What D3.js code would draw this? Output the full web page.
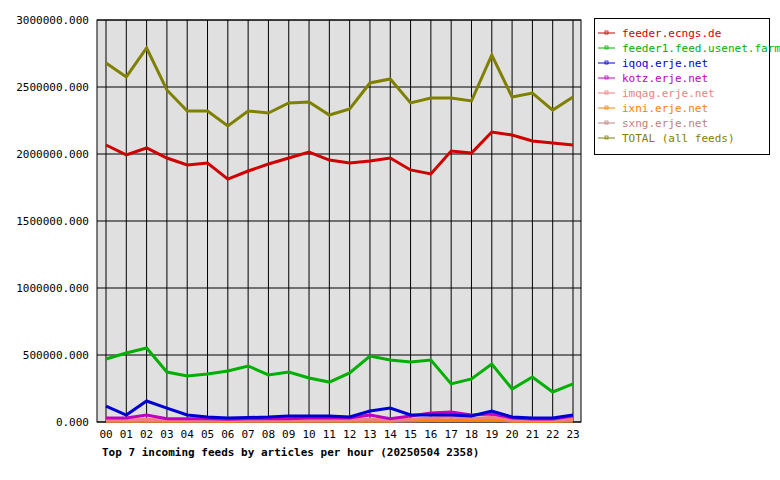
<!DOCTYPE html><html><head><meta charset="utf-8"><script src="https://cdn.jsdelivr.net/npm/d3@7"></script>
<style>body{margin:0;background:#fff}text{font-family:"DejaVu Sans Mono",monospace;font-size:11px}</style></head><body><svg width="780" height="480"></svg><script>
const hours=["00","01","02","03","04","05","06","07","08","09","10","11","12","13","14","15","16","17","18","19","20","21","22","23"];
const feederEcngs=[2067,1993,2045,1970,1918,1933,1813,1873,1925,1970,2015,1955,1933,1948,1970,1881,1851,2022,2007,2164,2142,2097,2082,2067];
const feeder1=[470,515,552,373,343,358,381,418,351,373,328,298,366,492,463,448,463,284,321,433,246,336,224,284];
const iqoq=[119,52,157,104,52,37,30,33,37,45,45,45,37,82,104,52,52,52,45,82,37,30,30,52];
const kotz=[30,30,52,25,25,25,20,25,25,25,30,30,30,52,25,45,67,75,52,60,30,22,22,45];
const imqag=[15,15,20,15,15,15,12,15,15,15,15,15,15,20,15,20,30,40,25,35,15,12,12,20];
const ixni=[8,8,10,8,8,8,6,8,8,8,8,8,8,10,8,20,12,15,12,15,8,6,6,10];
const sxng=[6,6,8,6,6,6,5,6,6,6,6,6,6,8,6,8,10,12,10,12,6,5,5,8];
const total=[2679,2575,2791,2478,2321,2321,2209,2321,2306,2381,2388,2291,2336,2530,2560,2381,2418,2418,2396,2739,2425,2455,2328,2425];
const names=["feeder.ecngs.de","feeder1.feed.usenet.farm","iqoq.erje.net","kotz.erje.net","imqag.erje.net","ixni.erje.net","sxng.erje.net","TOTAL (all feeds)"];
const colors=["#d00000","#00b000","#0000d0","#c000c0","#f08080","#ff8000","#c08080","#808000"];
const yTicks=[0,500000,1000000,1500000,2000000,2500000,3000000];
const series=[feederEcngs,feeder1,iqoq,kotz,imqag,ixni,sxng,total];
const svg=d3.select("svg");
const L=97,R=581,T=20,B=422;
const x=d3.scalePoint().domain(hours).range([106,573]);
const y=d3.scaleLinear().domain([0,3000000]).range([B,T]);
svg.append("rect").attr("x",L).attr("y",T).attr("width",R-L).attr("height",B-T).attr("fill","#e0e0e0");
hours.forEach(h=>svg.append("line").attr("x1",x(h)).attr("x2",x(h)).attr("y1",T).attr("y2",B).attr("stroke","#000"));
yTicks.forEach(v=>{svg.append("line").attr("x1",L).attr("x2",R).attr("y1",y(v)).attr("y2",y(v)).attr("stroke","#000");
 svg.append("text").attr("x",89).attr("y",y(v)+4).attr("text-anchor","end").text(v.toFixed(3));});
svg.append("rect").attr("x",L).attr("y",T).attr("width",R-L).attr("height",B-T).attr("fill","none").attr("stroke","#000");
hours.forEach(h=>svg.append("text").attr("x",x(h)).attr("y",438).attr("text-anchor","middle").text(h));
const line=d3.line().x((d,i)=>x(hours[i])).y(d=>y(d*1000));
for(let k=series.length-1;k>=0;k--){}
[6,5,4,3,2,1,0,7].forEach(k=>svg.append("path").datum(series[k]).attr("d",line).attr("fill","none").attr("stroke",colors[k]).attr("stroke-width",3));
svg.append("text").attr("x",102).attr("y",456).attr("font-weight","bold").style("font-weight","bold").text("Top 7 incoming feeds by articles per hour (20250504 2358)");
svg.append("rect").attr("x",594.5).attr("y",18.5).attr("width",175).attr("height",136).attr("fill","#fff").attr("stroke","#000");
names.forEach((n,i)=>{const yy=33+i*15;
 svg.append("line").attr("x1",598).attr("x2",615).attr("y1",yy).attr("y2",yy).attr("stroke",colors[i]);
 svg.append("rect").attr("x",605).attr("y",yy-2).attr("width",3).attr("height",3).attr("fill","none").attr("stroke",colors[i]).attr("stroke-width",0.8);
 svg.append("text").attr("x",622).attr("y",yy+4).attr("fill",colors[i]).text(n);});
</script></body></html>
